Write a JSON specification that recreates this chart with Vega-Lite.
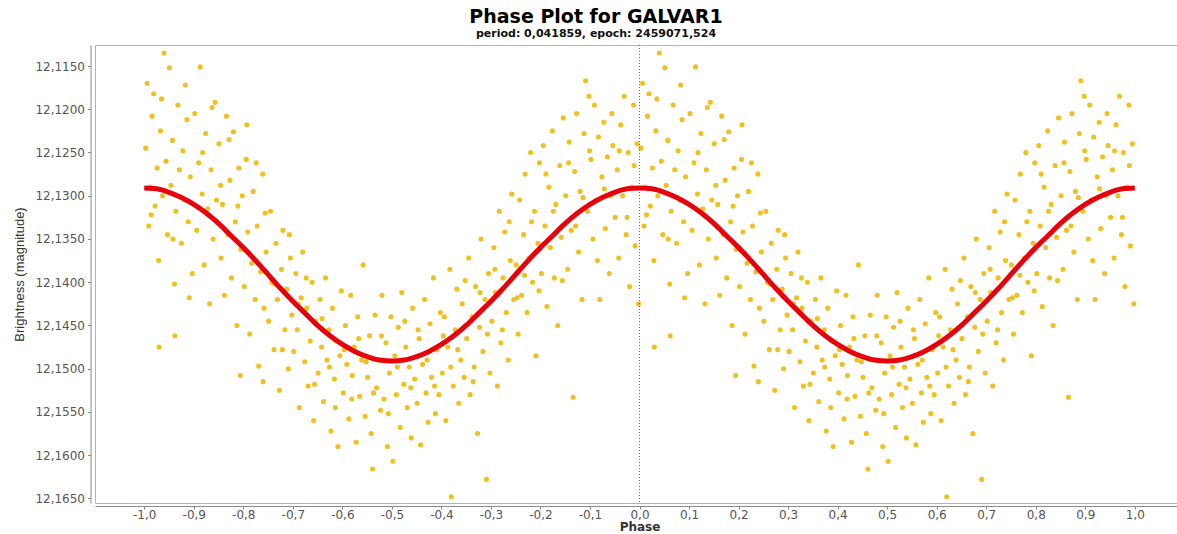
{
"$schema": "https://vega.github.io/schema/vega-lite/v6.json",
"width": 1082, "height": 458,
"autosize": {"type": "none"},
"padding": {"left": 95, "top": 45, "right": 0, "bottom": 31},
"background": "white",
"title": {"text": "Phase Plot for GALVAR1", "subtitle": "period: 0,041859, epoch: 2459071,524", "anchor": "middle", "dx": -40, "font": "DejaVu Sans", "fontSize": 19, "fontWeight": "bold", "color": "#000000", "subtitleFont": "DejaVu Sans", "subtitleFontSize": 11, "subtitleFontWeight": "bold", "subtitleColor": "#111111", "subtitlePadding": 1, "offset": 6},
"datasets": {
"pts": [
{"a":-0.997,"b":0.003,"m":12.1245},{"a":-0.994,"b":0.006,"m":12.1170},{"a":-0.991,"b":0.009,"m":12.1335},{"a":-0.988,"b":0.012,"m":12.1290},{"a":-0.984,"b":0.016,"m":12.1208},{"a":-0.981,"b":0.019,"m":12.1182},{"a":-0.978,"b":0.022,"m":12.1312},{"a":-0.974,"b":0.026,"m":12.1268},{"a":-0.971,"b":0.029,"m":12.1375},{"a":-0.970,"b":0.030,"m":12.1475},{"a":-0.967,"b":0.033,"m":12.1225},{"a":-0.963,"b":0.037,"m":12.1300},{"a":-0.960,"b":0.040,"m":12.1135},{"a":-0.956,"b":0.044,"m":12.1260},{"a":-0.953,"b":0.047,"m":12.1345},
{"a":-0.949,"b":0.051,"m":12.1152},{"a":-0.946,"b":0.054,"m":12.1288},{"a":-0.943,"b":0.057,"m":12.1236},{"a":-0.939,"b":0.061,"m":12.1402},{"a":-0.938,"b":0.062,"m":12.1462},{"a":-0.936,"b":0.064,"m":12.1318},{"a":-0.932,"b":0.068,"m":12.1195},{"a":-0.929,"b":0.071,"m":12.1270},{"a":-0.925,"b":0.075,"m":12.1355},{"a":-0.922,"b":0.078,"m":12.1248},{"a":-0.918,"b":0.082,"m":12.1305},{"a":-0.914,"b":0.086,"m":12.1212},{"a":-0.911,"b":0.089,"m":12.1330},{"a":-0.907,"b":0.093,"m":12.1278},{"a":-0.903,"b":0.097,"m":12.1390},
{"a":-0.898,"b":0.102,"m":12.1205},{"a":-0.894,"b":0.106,"m":12.1340},{"a":-0.890,"b":0.110,"m":12.1262},{"a":-0.887,"b":0.113,"m":12.1151},{"a":-0.883,"b":0.117,"m":12.1298},{"a":-0.879,"b":0.121,"m":12.1380},{"a":-0.876,"b":0.124,"m":12.1228},{"a":-0.872,"b":0.128,"m":12.1315},{"a":-0.868,"b":0.132,"m":12.1425},{"a":-0.865,"b":0.135,"m":12.1270},{"a":-0.861,"b":0.139,"m":12.1350},{"a":-0.857,"b":0.143,"m":12.1192},{"a":-0.854,"b":0.146,"m":12.1305},
{"a":-0.849,"b":0.151,"m":12.1240},{"a":-0.845,"b":0.155,"m":12.1372},{"a":-0.842,"b":0.158,"m":12.1310},{"a":-0.838,"b":0.162,"m":12.1415},{"a":-0.834,"b":0.166,"m":12.1208},{"a":-0.831,"b":0.169,"m":12.1345},{"a":-0.827,"b":0.173,"m":12.1282},{"a":-0.824,"b":0.176,"m":12.1395},{"a":-0.820,"b":0.180,"m":12.1226},{"a":-0.816,"b":0.184,"m":12.1330},{"a":-0.813,"b":0.187,"m":12.1450},{"a":-0.809,"b":0.191,"m":12.1268},{"a":-0.806,"b":0.194,"m":12.1508},{"a":-0.805,"b":0.195,"m":12.1362},{"a":-0.802,"b":0.198,"m":12.1300},
{"a":-0.798,"b":0.202,"m":12.1405},{"a":-0.794,"b":0.206,"m":12.1258},{"a":-0.791,"b":0.209,"m":12.1342},{"a":-0.787,"b":0.213,"m":12.1460},{"a":-0.783,"b":0.217,"m":12.1378},{"a":-0.780,"b":0.220,"m":12.1295},{"a":-0.776,"b":0.224,"m":12.1420},{"a":-0.772,"b":0.228,"m":12.1335},{"a":-0.769,"b":0.231,"m":12.1497},{"a":-0.765,"b":0.235,"m":12.1388},{"a":-0.761,"b":0.239,"m":12.1275},{"a":-0.760,"b":0.240,"m":12.1515},{"a":-0.758,"b":0.242,"m":12.1430},{"a":-0.754,"b":0.246,"m":12.1365},
{"a":-0.749,"b":0.251,"m":12.1445},{"a":-0.745,"b":0.255,"m":12.1318},{"a":-0.742,"b":0.258,"m":12.1400},{"a":-0.738,"b":0.262,"m":12.1478},{"a":-0.734,"b":0.266,"m":12.1355},{"a":-0.731,"b":0.269,"m":12.1420},{"a":-0.727,"b":0.273,"m":12.1525},{"a":-0.723,"b":0.277,"m":12.1385},{"a":-0.720,"b":0.280,"m":12.1340},{"a":-0.716,"b":0.284,"m":12.1455},{"a":-0.712,"b":0.288,"m":12.1408},{"a":-0.709,"b":0.291,"m":12.1500},{"a":-0.705,"b":0.295,"m":12.1372},{"a":-0.702,"b":0.298,"m":12.1438},
{"a":-0.698,"b":0.302,"m":12.1480},{"a":-0.694,"b":0.306,"m":12.1390},{"a":-0.691,"b":0.309,"m":12.1455},{"a":-0.687,"b":0.313,"m":12.1545},{"a":-0.683,"b":0.317,"m":12.1418},{"a":-0.680,"b":0.320,"m":12.1365},{"a":-0.676,"b":0.324,"m":12.1492},{"a":-0.672,"b":0.328,"m":12.1430},{"a":-0.669,"b":0.331,"m":12.1520},{"a":-0.665,"b":0.335,"m":12.1468},{"a":-0.661,"b":0.339,"m":12.1400},{"a":-0.658,"b":0.342,"m":12.1560},{"a":-0.654,"b":0.346,"m":12.1445},
{"a":-0.649,"b":0.351,"m":12.1505},{"a":-0.645,"b":0.355,"m":12.1420},{"a":-0.642,"b":0.358,"m":12.1475},{"a":-0.638,"b":0.362,"m":12.1538},{"a":-0.634,"b":0.366,"m":12.1395},{"a":-0.631,"b":0.369,"m":12.1490},{"a":-0.627,"b":0.373,"m":12.1455},{"a":-0.623,"b":0.377,"m":12.1572},{"a":-0.620,"b":0.380,"m":12.1430},{"a":-0.616,"b":0.384,"m":12.1512},{"a":-0.612,"b":0.388,"m":12.1468},{"a":-0.609,"b":0.391,"m":12.1590},{"a":-0.605,"b":0.395,"m":12.1485},{"a":-0.602,"b":0.398,"m":12.1410},
{"a":-0.598,"b":0.402,"m":12.1528},{"a":-0.594,"b":0.406,"m":12.1450},{"a":-0.591,"b":0.409,"m":12.1495},{"a":-0.587,"b":0.413,"m":12.1558},{"a":-0.583,"b":0.417,"m":12.1415},{"a":-0.580,"b":0.420,"m":12.1508},{"a":-0.576,"b":0.424,"m":12.1475},{"a":-0.572,"b":0.428,"m":12.1585},{"a":-0.569,"b":0.431,"m":12.1440},{"a":-0.565,"b":0.435,"m":12.1532},{"a":-0.561,"b":0.439,"m":12.1490},{"a":-0.558,"b":0.442,"m":12.1380},{"a":-0.554,"b":0.446,"m":12.1555},
{"a":-0.549,"b":0.451,"m":12.1510},{"a":-0.545,"b":0.455,"m":12.1462},{"a":-0.542,"b":0.458,"m":12.1575},{"a":-0.539,"b":0.461,"m":12.1616},{"a":-0.534,"b":0.466,"m":12.1438},{"a":-0.531,"b":0.469,"m":12.1522},{"a":-0.527,"b":0.473,"m":12.1490},{"a":-0.523,"b":0.477,"m":12.1548},{"a":-0.520,"b":0.480,"m":12.1415},{"a":-0.516,"b":0.484,"m":12.1535},{"a":-0.512,"b":0.488,"m":12.1470},{"a":-0.509,"b":0.491,"m":12.1590},{"a":-0.505,"b":0.495,"m":12.1505},{"a":-0.502,"b":0.498,"m":12.1440},
{"a":-0.498,"b":0.502,"m":12.1607},{"a":-0.494,"b":0.506,"m":12.1485},{"a":-0.491,"b":0.509,"m":12.1530},{"a":-0.487,"b":0.513,"m":12.1452},{"a":-0.483,"b":0.517,"m":12.1568},{"a":-0.480,"b":0.520,"m":12.1412},{"a":-0.476,"b":0.524,"m":12.1518},{"a":-0.472,"b":0.528,"m":12.1475},{"a":-0.469,"b":0.531,"m":12.1545},{"a":-0.465,"b":0.535,"m":12.1498},{"a":-0.461,"b":0.539,"m":12.1580},{"a":-0.458,"b":0.542,"m":12.1430},{"a":-0.454,"b":0.546,"m":12.1512},
{"a":-0.449,"b":0.551,"m":12.1540},{"a":-0.445,"b":0.555,"m":12.1465},{"a":-0.442,"b":0.558,"m":12.1588},{"a":-0.438,"b":0.562,"m":12.1495},{"a":-0.434,"b":0.566,"m":12.1420},{"a":-0.431,"b":0.569,"m":12.1528},{"a":-0.427,"b":0.573,"m":12.1562},{"a":-0.423,"b":0.577,"m":12.1448},{"a":-0.420,"b":0.580,"m":12.1510},{"a":-0.416,"b":0.584,"m":12.1395},{"a":-0.412,"b":0.588,"m":12.1552},{"a":-0.409,"b":0.591,"m":12.1478},{"a":-0.405,"b":0.595,"m":12.1530},{"a":-0.402,"b":0.598,"m":12.1435},
{"a":-0.398,"b":0.602,"m":12.1505},{"a":-0.394,"b":0.606,"m":12.1440},{"a":-0.391,"b":0.609,"m":12.1560},{"a":-0.387,"b":0.613,"m":12.1475},{"a":-0.383,"b":0.617,"m":12.1385},{"a":-0.380,"b":0.620,"m":12.1648},{"a":-0.376,"b":0.624,"m":12.1520},{"a":-0.372,"b":0.628,"m":12.1455},{"a":-0.369,"b":0.631,"m":12.1408},{"a":-0.365,"b":0.635,"m":12.1540},{"a":-0.361,"b":0.639,"m":12.1490},{"a":-0.358,"b":0.642,"m":12.1425},{"a":-0.354,"b":0.646,"m":12.1510},
{"a":-0.349,"b":0.651,"m":12.1465},{"a":-0.345,"b":0.655,"m":12.1372},{"a":-0.342,"b":0.658,"m":12.1530},{"a":-0.338,"b":0.662,"m":12.1440},{"a":-0.334,"b":0.666,"m":12.1498},{"a":-0.331,"b":0.669,"m":12.1405},{"a":-0.327,"b":0.673,"m":12.1575},{"a":-0.323,"b":0.677,"m":12.1452},{"a":-0.320,"b":0.680,"m":12.1350},{"a":-0.316,"b":0.684,"m":12.1480},{"a":-0.312,"b":0.688,"m":12.1420},{"a":-0.309,"b":0.691,"m":12.1628},{"a":-0.305,"b":0.695,"m":12.1390},{"a":-0.302,"b":0.698,"m":12.1505},
{"a":-0.298,"b":0.702,"m":12.1445},{"a":-0.294,"b":0.706,"m":12.1360},{"a":-0.291,"b":0.709,"m":12.1412},{"a":-0.287,"b":0.713,"m":12.1520},{"a":-0.283,"b":0.717,"m":12.1318},{"a":-0.280,"b":0.720,"m":12.1470},{"a":-0.276,"b":0.724,"m":12.1395},{"a":-0.272,"b":0.728,"m":12.1342},{"a":-0.269,"b":0.731,"m":12.1435},{"a":-0.265,"b":0.735,"m":12.1490},{"a":-0.261,"b":0.739,"m":12.1375},{"a":-0.258,"b":0.742,"m":12.1298},{"a":-0.254,"b":0.746,"m":12.1420},
{"a":-0.249,"b":0.751,"m":12.1380},{"a":-0.245,"b":0.755,"m":12.1460},{"a":-0.242,"b":0.758,"m":12.1305},{"a":-0.238,"b":0.762,"m":12.1415},{"a":-0.234,"b":0.766,"m":12.1345},{"a":-0.231,"b":0.769,"m":12.1275},{"a":-0.227,"b":0.773,"m":12.1435},{"a":-0.223,"b":0.777,"m":12.1372},{"a":-0.220,"b":0.780,"m":12.1250},{"a":-0.216,"b":0.784,"m":12.1400},{"a":-0.212,"b":0.788,"m":12.1318},{"a":-0.209,"b":0.791,"m":12.1485},{"a":-0.205,"b":0.795,"m":12.1355},{"a":-0.202,"b":0.798,"m":12.1262},
{"a":-0.198,"b":0.802,"m":12.1390},{"a":-0.194,"b":0.806,"m":12.1242},{"a":-0.191,"b":0.809,"m":12.1335},{"a":-0.187,"b":0.813,"m":12.1428},{"a":-0.183,"b":0.817,"m":12.1290},{"a":-0.180,"b":0.820,"m":12.1360},{"a":-0.176,"b":0.824,"m":12.1225},{"a":-0.172,"b":0.828,"m":12.1395},{"a":-0.169,"b":0.831,"m":12.1310},{"a":-0.165,"b":0.835,"m":12.1450},{"a":-0.161,"b":0.839,"m":12.1265},{"a":-0.158,"b":0.842,"m":12.1348},{"a":-0.154,"b":0.846,"m":12.1210},
{"a":-0.149,"b":0.851,"m":12.1300},{"a":-0.145,"b":0.855,"m":12.1385},{"a":-0.142,"b":0.858,"m":12.1238},{"a":-0.138,"b":0.862,"m":12.1340},{"a":-0.134,"b":0.866,"m":12.1533},{"a":-0.131,"b":0.869,"m":12.1272},{"a":-0.127,"b":0.873,"m":12.1205},{"a":-0.123,"b":0.877,"m":12.1365},{"a":-0.120,"b":0.880,"m":12.1295},{"a":-0.116,"b":0.884,"m":12.1420},{"a":-0.112,"b":0.888,"m":12.1228},{"a":-0.109,"b":0.891,"m":12.1167},{"a":-0.105,"b":0.895,"m":12.1318},{"a":-0.102,"b":0.898,"m":12.1185},
{"a":-0.098,"b":0.902,"m":12.1258},{"a":-0.094,"b":0.906,"m":12.1350},{"a":-0.091,"b":0.909,"m":12.1195},{"a":-0.087,"b":0.913,"m":12.1305},{"a":-0.083,"b":0.917,"m":12.1232},{"a":-0.080,"b":0.920,"m":12.1420},{"a":-0.076,"b":0.924,"m":12.1278},{"a":-0.072,"b":0.928,"m":12.1215},{"a":-0.069,"b":0.931,"m":12.1338},{"a":-0.065,"b":0.935,"m":12.1255},{"a":-0.061,"b":0.939,"m":12.1390},{"a":-0.058,"b":0.942,"m":12.1300},{"a":-0.054,"b":0.946,"m":12.1242},
{"a":-0.049,"b":0.951,"m":12.1325},{"a":-0.045,"b":0.955,"m":12.1270},{"a":-0.042,"b":0.958,"m":12.1372},{"a":-0.038,"b":0.962,"m":12.1218},{"a":-0.034,"b":0.966,"m":12.1300},{"a":-0.031,"b":0.969,"m":12.1185},{"a":-0.027,"b":0.973,"m":12.1345},{"a":-0.023,"b":0.977,"m":12.1250},{"a":-0.020,"b":0.980,"m":12.1405},{"a":-0.016,"b":0.984,"m":12.1290},{"a":-0.012,"b":0.988,"m":12.1195},{"a":-0.009,"b":0.991,"m":12.1358},{"a":-0.005,"b":0.995,"m":12.1240},{"a":-0.002,"b":0.998,"m":12.1425},
{"a":-0.986,"b":0.014,"m":12.1322},{"a":-0.965,"b":0.035,"m":12.1188},{"a":-0.942,"b":0.058,"m":12.1350},{"a":-0.917,"b":0.083,"m":12.1172},{"a":-0.909,"b":0.091,"m":12.1418},{"a":-0.882,"b":0.118,"m":12.1250},{"a":-0.863,"b":0.137,"m":12.1198},{"a":-0.846,"b":0.154,"m":12.1288},{"a":-0.829,"b":0.171,"m":12.1235},{"a":-0.811,"b":0.189,"m":12.1312},{"a":-0.793,"b":0.207,"m":12.1218},{"a":-0.774,"b":0.226,"m":12.1262},{"a":-0.756,"b":0.244,"m":12.1320},{"a":-0.737,"b":0.263,"m":12.1402},{"a":-0.721,"b":0.279,"m":12.1478},{"a":-0.707,"b":0.293,"m":12.1345},{"a":-0.689,"b":0.311,"m":12.1425},{"a":-0.673,"b":0.327,"m":12.1395},{"a":-0.656,"b":0.344,"m":12.1518},{"a":-0.641,"b":0.359,"m":12.1442},{"a":-0.626,"b":0.374,"m":12.1498},{"a":-0.614,"b":0.386,"m":12.1545},{"a":-0.596,"b":0.404,"m":12.1478},{"a":-0.581,"b":0.419,"m":12.1535},{"a":-0.567,"b":0.433,"m":12.1465},{"a":-0.552,"b":0.448,"m":12.1492},{"a":-0.537,"b":0.463,"m":12.1528},{"a":-0.521,"b":0.479,"m":12.1462},{"a":-0.507,"b":0.493,"m":12.1552},{"a":-0.489,"b":0.511,"m":12.1498},{"a":-0.474,"b":0.526,"m":12.1445},
{"a":-0.462,"b":0.538,"m":12.1522},{"a":-0.447,"b":0.553,"m":12.1455},{"a":-0.429,"b":0.571,"m":12.1490},{"a":-0.414,"b":0.586,"m":12.1520},{"a":-0.396,"b":0.604,"m":12.1462},{"a":-0.381,"b":0.619,"m":12.1498},{"a":-0.367,"b":0.633,"m":12.1478},{"a":-0.352,"b":0.648,"m":12.1398},{"a":-0.336,"b":0.664,"m":12.1515},{"a":-0.322,"b":0.678,"m":12.1412},{"a":-0.307,"b":0.693,"m":12.1460},{"a":-0.292,"b":0.708,"m":12.1385},{"a":-0.277,"b":0.723,"m":12.1455},{"a":-0.263,"b":0.737,"m":12.1330},{"a":-0.247,"b":0.753,"m":12.1418},{"a":-0.232,"b":0.768,"m":12.1392},{"a":-0.218,"b":0.782,"m":12.1330},{"a":-0.203,"b":0.797,"m":12.1410},{"a":-0.189,"b":0.811,"m":12.1275},{"a":-0.174,"b":0.826,"m":12.1318},{"a":-0.156,"b":0.844,"m":12.1398},{"a":-0.143,"b":0.857,"m":12.1262},{"a":-0.129,"b":0.871,"m":12.1335},{"a":-0.114,"b":0.886,"m":12.1302},{"a":-0.101,"b":0.899,"m":12.1248},{"a":-0.085,"b":0.915,"m":12.1375},{"a":-0.071,"b":0.929,"m":12.1292},{"a":-0.056,"b":0.944,"m":12.1205},{"a":-0.041,"b":0.959,"m":12.1248},{"a":-0.025,"b":0.975,"m":12.1325},{"a":-0.011,"b":0.989,"m":12.1265}
],
"fit": [
{"p":-1.0,"m":12.1291},{"p":-0.975,"m":12.1292},{"p":-0.95,"m":12.1296},{"p":-0.925,"m":12.1302},{"p":-0.9,"m":12.1310},{"p":-0.875,"m":12.1320},{"p":-0.85,"m":12.1332},{"p":-0.825,"m":12.1346},{"p":-0.8,"m":12.1360},{"p":-0.775,"m":12.1375},{"p":-0.75,"m":12.1391},{"p":-0.725,"m":12.1407},{"p":-0.7,"m":12.1422},{"p":-0.675,"m":12.1436},{"p":-0.65,"m":12.1450},{"p":-0.625,"m":12.1462},{"p":-0.6,"m":12.1472},{"p":-0.575,"m":12.1480},{"p":-0.55,"m":12.1486},{"p":-0.525,"m":12.1490},{"p":-0.5,"m":12.1491},{"p":-0.475,"m":12.1490},{"p":-0.45,"m":12.1486},{"p":-0.425,"m":12.1480},{"p":-0.4,"m":12.1472},{"p":-0.375,"m":12.1462},{"p":-0.35,"m":12.1450},{"p":-0.325,"m":12.1436},{"p":-0.3,"m":12.1422},{"p":-0.275,"m":12.1407},{"p":-0.25,"m":12.1391},{"p":-0.225,"m":12.1375},{"p":-0.2,"m":12.1360},{"p":-0.175,"m":12.1346},{"p":-0.15,"m":12.1332},{"p":-0.125,"m":12.1320},{"p":-0.1,"m":12.1310},{"p":-0.075,"m":12.1302},{"p":-0.05,"m":12.1296},{"p":-0.025,"m":12.1292},
{"p":0.0,"m":12.1291},{"p":0.025,"m":12.1292},{"p":0.05,"m":12.1296},{"p":0.075,"m":12.1302},{"p":0.1,"m":12.1310},{"p":0.125,"m":12.1320},{"p":0.15,"m":12.1332},{"p":0.175,"m":12.1346},{"p":0.2,"m":12.1360},{"p":0.225,"m":12.1375},{"p":0.25,"m":12.1391},{"p":0.275,"m":12.1407},{"p":0.3,"m":12.1422},{"p":0.325,"m":12.1436},{"p":0.35,"m":12.1450},{"p":0.375,"m":12.1462},{"p":0.4,"m":12.1472},{"p":0.425,"m":12.1480},{"p":0.45,"m":12.1486},{"p":0.475,"m":12.1490},{"p":0.5,"m":12.1491},{"p":0.525,"m":12.1490},{"p":0.55,"m":12.1486},{"p":0.575,"m":12.1480},{"p":0.6,"m":12.1472},{"p":0.625,"m":12.1462},{"p":0.65,"m":12.1450},{"p":0.675,"m":12.1436},{"p":0.7,"m":12.1422},{"p":0.725,"m":12.1407},{"p":0.75,"m":12.1391},{"p":0.775,"m":12.1375},{"p":0.8,"m":12.1360},{"p":0.825,"m":12.1346},{"p":0.85,"m":12.1332},{"p":0.875,"m":12.1320},{"p":0.9,"m":12.1310},{"p":0.925,"m":12.1302},{"p":0.95,"m":12.1296},{"p":0.975,"m":12.1292},{"p":1.0,"m":12.1291}
]
},
"layer": [
{"data": {"name": "pts"}, "mark": {"type": "circle", "size": 26, "opacity": 1, "color": "#f2c01e"},
 "encoding": {
  "x": {"field": "a", "type": "quantitative", "title": "Phase", "scale": {"domain": [-1.0994, 1.0852], "nice": false, "zero": false},
   "axis": {"values": [-1,-0.9,-0.8,-0.7,-0.6,-0.5,-0.4,-0.3,-0.2,-0.1,0,0.1,0.2,0.3,0.4,0.5,0.6,0.7,0.8,0.9,1], "labelExpr": "replace(replace(format(datum.value, '.1f'), '.', ','), '\u2212', '-')"}},
  "y": {"field": "m", "type": "quantitative", "title": "Brightness (magnitude)", "scale": {"domain": [12.11257, 12.16553], "reverse": true, "nice": false, "zero": false},
   "axis": {"values": [12.115,12.1175,12.12,12.1225,12.125,12.1275,12.13,12.1325,12.135,12.1375,12.14,12.1425,12.145,12.1475,12.15,12.1525,12.155,12.1575,12.16,12.1625,12.165], "labelExpr": "replace(format(datum.value, '.4f'), '.', ',')"}}
 }},
{"data": {"name": "pts"}, "mark": {"type": "circle", "size": 26, "opacity": 1, "color": "#f2c01e"},
 "encoding": {
  "x": {"field": "b", "type": "quantitative", "title": "Phase", "scale": {"domain": [-1.0994, 1.0852], "nice": false, "zero": false}},
  "y": {"field": "m", "type": "quantitative", "title": "Brightness (magnitude)", "scale": {"domain": [12.11257, 12.16553], "reverse": true, "nice": false, "zero": false}}
 }},
{"data": {"values": [{"p": 0}]}, "mark": {"type": "rule", "color": "#5c5cae", "strokeDash": [1, 2], "strokeWidth": 1},
 "encoding": {"x": {"field": "p", "type": "quantitative", "title": "Phase", "scale": {"domain": [-1.0994, 1.0852], "nice": false, "zero": false}}}},
{"data": {"name": "fit"}, "mark": {"type": "line", "color": "#e8000a", "strokeWidth": 5, "interpolate": "monotone"},
 "encoding": {
  "x": {"field": "p", "type": "quantitative", "title": "Phase", "scale": {"domain": [-1.0994, 1.0852], "nice": false, "zero": false}},
  "y": {"field": "m", "type": "quantitative", "title": "Brightness (magnitude)", "scale": {"domain": [12.11257, 12.16553], "reverse": true, "nice": false, "zero": false}}
 }}
],
"config": {
 "view": {"stroke": "#b4b4b4", "strokeWidth": 1},
 "axis": {"grid": false, "domainColor": "#8a8a8a", "tickColor": "#8a8a8a", "tickSize": 3, "labelFont": "DejaVu Sans", "labelFontSize": 12, "labelColor": "#555555"},
 "axisX": {"offset": 3, "labelPadding": 0, "titleFont": "DejaVu Sans", "titleFontSize": 12, "titleFontWeight": "bold", "titleColor": "#333333", "titlePadding": 1, "titleX": 544.5, "labelFlush": false, "labelOverlap": false},
 "axisY": {"offset": 4.5, "labelPadding": 3, "titleFont": "Liberation Sans", "titleFontSize": 13, "titleFontWeight": "normal", "titleColor": "#333333", "titlePadding": 8, "labelFlush": false, "labelOverlap": false}
}
}
